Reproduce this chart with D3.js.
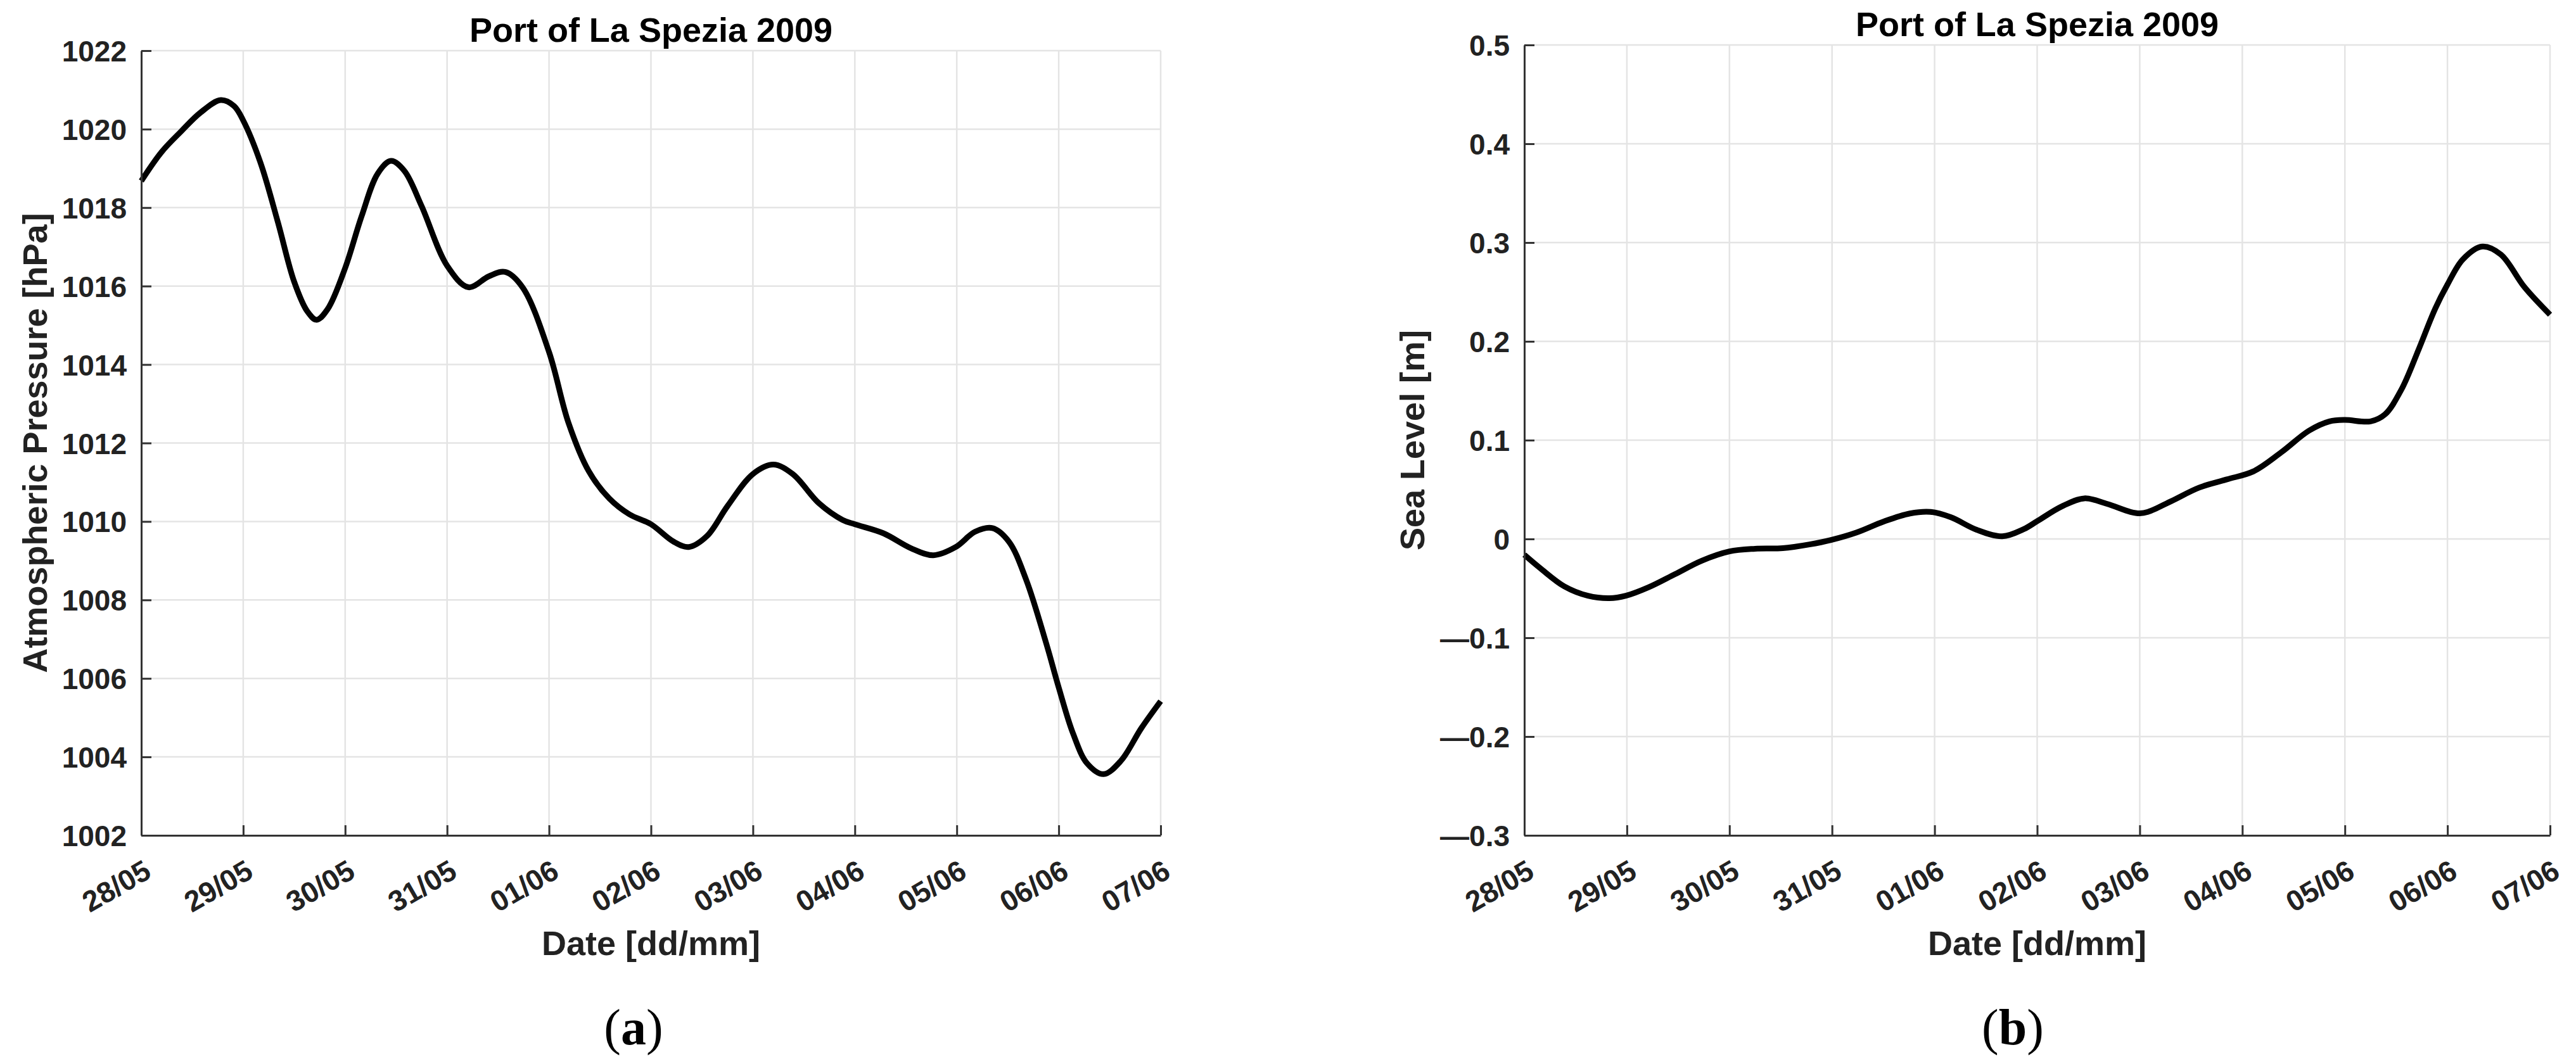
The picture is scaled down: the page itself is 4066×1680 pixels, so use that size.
<!DOCTYPE html>
<html>
<head>
<meta charset="utf-8">
<script src="https://cdn.jsdelivr.net/npm/d3@7"></script>
<style>
  html, body { margin: 0; padding: 0; background: #fff; }
  svg { display: block; }
</style>
</head>
<body>
<svg id="fig" width="4066" height="1680"></svg>
<script>
// time axis: days since 28/05/2009 00:00
const startDate = new Date(2009, 4, 28)
const endDate = new Date(2009, 5, 7)

// (a) atmospheric pressure [hPa]
const pressureDays = [0.00, 0.20, 0.39, 0.58, 0.78, 0.91, 1.00, 1.17, 1.34, 1.50, 1.63, 1.72, 1.83,
  2.00, 2.16, 2.32, 2.45, 2.58, 2.75, 3.00, 3.21, 3.41, 3.57, 3.74, 4.00, 4.19, 4.39, 4.59, 4.79,
  5.00, 5.22, 5.37, 5.55, 5.75, 6.00, 6.20, 6.39, 6.65, 6.88, 7.00, 7.28, 7.55, 7.77, 7.99, 8.18,
  8.35, 8.51, 8.68, 8.88, 9.00, 9.14, 9.28, 9.44, 9.61, 9.81, 10.00]
const pressureValues = [1018.68, 1019.42, 1019.94, 1020.42, 1020.74, 1020.59, 1020.22, 1019.14,
  1017.63, 1016.11, 1015.35, 1015.14, 1015.42, 1016.46, 1017.77, 1018.87, 1019.19, 1018.94,
  1018.04, 1016.52, 1015.97, 1016.25, 1016.36, 1015.97, 1014.32, 1012.52, 1011.28, 1010.59,
  1010.18, 1009.93, 1009.49, 1009.35, 1009.63, 1010.39, 1011.21, 1011.45, 1011.21, 1010.46,
  1010.04, 1009.93, 1009.70, 1009.32, 1009.14, 1009.35, 1009.74, 1009.83, 1009.49, 1008.52,
  1006.87, 1005.77, 1004.60, 1003.83, 1003.56, 1003.90, 1004.73, 1005.42]
const pressureTicks = [1002, 1004, 1006, 1008, 1010, 1012, 1014, 1016, 1018, 1020, 1022]

// (b) sea level [m]
const seaDays = [0.00, 0.16, 0.39, 0.62, 0.83, 0.99, 1.21, 1.47, 1.73, 2.00, 2.25, 2.52, 2.78,
  2.99, 3.24, 3.50, 3.76, 3.96, 4.16, 4.41, 4.66, 4.87, 5.00, 5.24, 5.46, 5.68, 5.91, 6.00, 6.08,
  6.31, 6.58, 6.85, 7.11, 7.38, 7.65, 7.85, 8.00, 8.25, 8.39, 8.55, 8.72, 8.88, 9.00, 9.15, 9.34,
  9.52, 9.75, 10.00]
const seaValues = [-0.016, -0.030, -0.048, -0.0575, -0.060, -0.0575, -0.049, -0.0356, -0.022,
  -0.0126, -0.0099, -0.0093, -0.0055, -0.001, 0.0066, 0.0175, 0.0258, 0.0274, 0.0219, 0.0093,
  0.0027, 0.010, 0.018, 0.0329, 0.0411, 0.0356, 0.0274, 0.026, 0.0274, 0.0384, 0.052, 0.0603,
  0.0685, 0.0877, 0.1096, 0.119, 0.1205, 0.119, 0.126, 0.151, 0.192, 0.233, 0.2575, 0.283,
  0.296, 0.288, 0.255, 0.227]
const seaTicks = [-0.3, -0.2, -0.1, 0, 0.1, 0.2, 0.3, 0.4, 0.5]

const titleText = "Port of La Spezia 2009"
const xLabelText = "Date [dd/mm]"

const svg = d3.select("#fig")
const font = "'Liberation Sans', Arial, Helvetica, sans-serif"
const axisColor = "#333"
const gridColor = "#e4e4e4"

const toDate = d => new Date(startDate.getTime() + d * 864e5)

const fmtSea = v => {
  const a = Math.abs(v) < 1e-9 ? "0" : d3.format(".1f")(Math.abs(v))
  return v < -1e-9 ? "\u2014" + a : a
}

function drawPanel(p) {
  const width = p.right - p.left,
      height = p.bottom - p.top

  const x = d3.scaleTime()
      .domain([startDate, endDate])
      .range([0, width])

  const y = d3.scaleLinear()
      .domain(d3.extent(p.ticks))
      .range([height, 0])

  const dayTicks = d3.timeDay.range(startDate, d3.timeDay.offset(endDate, 1))

  const g = svg.append("g")
    .attr("transform", "translate(" + p.left + "," + p.top + ")")

  // grid
  g.append("g")
    .selectAll("line.gy")
    .data(p.ticks)
    .join("line")
      .attr("x1", 0).attr("x2", width)
      .attr("y1", d => y(d)).attr("y2", d => y(d))
      .attr("stroke", gridColor).attr("stroke-width", 2.5)

  g.append("g")
    .selectAll("line.gx")
    .data(dayTicks)
    .join("line")
      .attr("x1", d => x(d)).attr("x2", d => x(d))
      .attr("y1", 0).attr("y2", height)
      .attr("stroke", gridColor).attr("stroke-width", 2.5)

  // curve
  const line = d3.line()
      .x(d => x(toDate(d[0])))
      .y(d => y(d[1]))
      .curve(d3.curveCatmullRom.alpha(0.5))

  g.append("path")
    .datum(d3.zip(p.days, p.values))
    .attr("fill", "none")
    .attr("stroke", "#000")
    .attr("stroke-width", 9)
    .attr("stroke-linejoin", "round")
    .attr("d", line)

  // Y axis
  const yAxis = g.append("g")
    .call(d3.axisLeft(y)
      .tickValues(p.ticks)
      .tickFormat(p.format)
      .tickSize(-16)
      .tickSizeOuter(0)
      .tickPadding(23))
  yAxis.select(".domain").attr("stroke", axisColor).attr("stroke-width", 3)
  yAxis.selectAll(".tick line").attr("stroke", axisColor).attr("stroke-width", 3)
  yAxis.selectAll(".tick text")
    .attr("fill", "#222")
    .attr("font-family", font)
    .attr("font-weight", "bold")
    .attr("font-size", 46)
    .attr("dy", "0.36em")

  // X axis
  const xAxis = g.append("g")
    .attr("transform", "translate(0," + height + ")")
    .call(d3.axisBottom(x)
      .tickValues(dayTicks)
      .tickFormat(d3.timeFormat("%d/%m"))
      .tickSize(-16)
      .tickSizeOuter(0))
  xAxis.select(".domain").attr("stroke", axisColor).attr("stroke-width", 3)
  xAxis.selectAll(".tick line").attr("stroke", axisColor).attr("stroke-width", 3)
  xAxis.selectAll(".tick text")
    .attr("fill", "#222")
    .attr("font-family", font)
    .attr("font-weight", "bold")
    .attr("font-size", 46)
    .attr("text-anchor", "end")
    .attr("x", null).attr("y", null).attr("dy", null)
    .attr("transform", "translate(18,65) rotate(-30)")

  // title
  g.append("text")
    .attr("x", width / 2)
    .attr("y", -14)
    .attr("text-anchor", "middle")
    .attr("font-family", font)
    .attr("font-weight", "bold")
    .attr("font-size", 54)
    .attr("fill", "#000")
    .text(titleText)

  // x label
  svg.append("text")
    .attr("x", p.left + width / 2)
    .attr("y", 1508)
    .attr("text-anchor", "middle")
    .attr("font-family", font)
    .attr("font-weight", "bold")
    .attr("font-size", 54)
    .attr("fill", "#222")
    .text(xLabelText)

  // y label
  svg.append("text")
    .attr("transform", "translate(" + p.yLabelX + "," + (p.top + height / 2) + ") rotate(-90)")
    .attr("text-anchor", "middle")
    .attr("font-family", font)
    .attr("font-weight", "bold")
    .attr("font-size", 54)
    .attr("fill", "#222")
    .text(p.yLabel)

  // panel letter
  const lab = svg.append("text")
    .attr("x", p.letterX)
    .attr("y", 1649)
    .attr("text-anchor", "middle")
    .attr("font-family", "'Liberation Serif', 'Times New Roman', serif")
    .attr("font-size", 80)
    .attr("fill", "#000")
  lab.append("tspan").text("(")
  lab.append("tspan").attr("font-weight", "bold").text(p.letter)
  lab.append("tspan").text(")")
}

drawPanel({
  left: 223, right: 1832, top: 80, bottom: 1319,
  days: pressureDays, values: pressureValues, ticks: pressureTicks,
  format: d3.format("d"),
  yLabel: "Atmospheric Pressure [hPa]", yLabelX: 74,
  letter: "a", letterX: 1000
})

drawPanel({
  left: 2406, right: 4025, top: 71, bottom: 1319,
  days: seaDays, values: seaValues, ticks: seaTicks,
  format: fmtSea,
  yLabel: "Sea Level [m]", yLabelX: 2248,
  letter: "b", letterX: 3177
})
</script>
</body>
</html>
